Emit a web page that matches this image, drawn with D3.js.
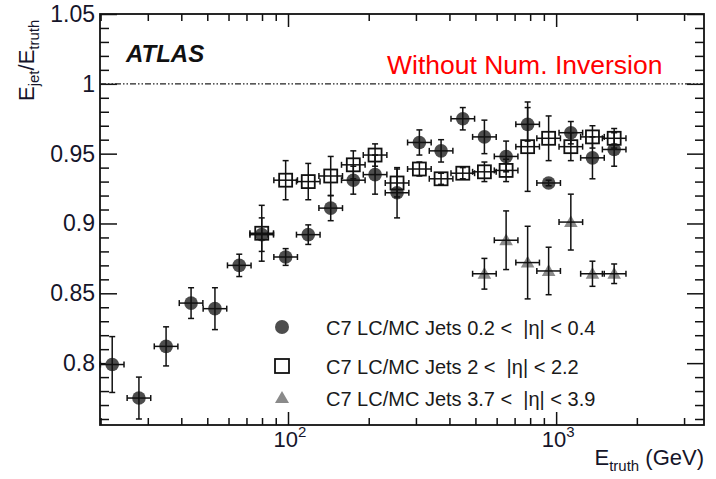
<!DOCTYPE html>
<html><head><meta charset="utf-8">
<script src="https://cdn.jsdelivr.net/npm/d3@7"></script>
<style>
body{margin:0;background:#fff}
svg{display:block}
text{font-family:"Liberation Sans",Arial,Helvetica,sans-serif}
</style>
</head><body>
<svg id="c" width="716" height="479"></svg>
<script>
// ---- data ----
const circE   = [22.1, 27.8, 35.1, 43.5, 53.4, 65.8, 79.8, 98.0, 119.0, 144.3, 175.2, 211.2, 255.1, 309.0, 372.3, 448.6, 540.1, 650.8, 782.9, 937.6, 1134.5, 1366, 1646];
const circR   = [0.799, 0.775, 0.812, 0.843, 0.839, 0.870, 0.892, 0.876, 0.892, 0.911, 0.931, 0.935, 0.922, 0.958, 0.952, 0.975, 0.962, 0.948, 0.971, 0.929, 0.965, 0.947, 0.953];
const circErr = [0.020, 0.015, 0.014, 0.011, 0.015, 0.008, 0.012, 0.006, 0.007, 0.009, 0.010, 0.014, 0.018, 0.009, 0.008, 0.008, 0.012, 0.011, 0.012, 0.002, 0.008, 0.015, 0.012];

const sqE   = [79.8, 98.0, 119.0, 144.3, 175.2, 211.2, 255.1, 309.0, 372.3, 448.6, 540.1, 650.8, 782.9, 937.6, 1134.5, 1366, 1646];
const sqR   = [0.893, 0.931, 0.930, 0.934, 0.942, 0.949, 0.929, 0.939, 0.932, 0.936, 0.937, 0.938, 0.955, 0.961, 0.955, 0.962, 0.961];
const sqErr = [0.020, 0.014, 0.013, 0.014, 0.010, 0.008, 0.010, 0.005, 0.004, 0.004, 0.007, 0.008, 0.032, 0.016, 0.010, 0.008, 0.007];

const triE   = [540.1, 650.8, 782.9, 937.6, 1134.5, 1366, 1646];
const triR   = [0.864, 0.888, 0.872, 0.866, 0.901, 0.864, 0.864];
const triErr = [0.011, 0.021, 0.026, 0.017, 0.020, 0.009, 0.007];

const xErrDecades = 0.044;

const yMajorTicks = [0.8, 0.85, 0.9, 0.95, 1, 1.05];
const yMajorLabels = ["0.8", "0.85", "0.9", "0.95", "1", "1.05"];
const xMajorTicks = [100, 1000];
const xMajorExp = ["2", "3"];

const legendLabels = ["C7 LC/MC Jets 0.2 <\u00a0 |η| < 0.4", "C7 LC/MC Jets 2 <\u00a0 |η| < 2.2", "C7 LC/MC Jets 3.7 <\u00a0 |η| < 3.9"];

// ---- layout ----
const L = 100, R = 704, T = 14, B = 425;
const svg = d3.select("#c");
const x = d3.scaleLog().domain([19.9, 3560]).range([L, R]);
const y = d3.scaleLinear().domain([0.7557, 1.05]).range([B, T]);

const yMinor = d3.range(76, 106).map(v => v / 100).filter(v => !yMajorTicks.some(m => Math.abs(m - v) < 1e-6));
const xMinor = [20,30,40,50,60,70,80,90,200,300,400,500,600,700,800,900,2000,3000];

function styleAxis(g){ g.select(".domain").remove(); g.selectAll("line").attr("stroke","#111").attr("stroke-width",1.5); }

// y axes (ticks inside)
svg.append("g").attr("transform",`translate(${L},0)`).call(d3.axisLeft(y).tickValues(yMinor).tickSize(-9).tickFormat("")).call(styleAxis);
svg.append("g").attr("transform",`translate(${L},0)`)
  .call(d3.axisLeft(y).tickValues(yMajorTicks).tickSize(-17).tickPadding(5).tickFormat((d,i)=>yMajorLabels[i]))
  .call(styleAxis)
  .call(g=>g.selectAll("text").attr("font-size",23).attr("fill","#15152a").attr("font-family",'"Liberation Sans",Arial,sans-serif'));
svg.append("g").attr("transform",`translate(${R},0)`).call(d3.axisRight(y).tickValues(yMinor).tickSize(-9).tickFormat("")).call(styleAxis);
svg.append("g").attr("transform",`translate(${R},0)`).call(d3.axisRight(y).tickValues(yMajorTicks).tickSize(-17).tickFormat("")).call(styleAxis);

// x axes
svg.append("g").attr("transform",`translate(0,${B})`).call(d3.axisBottom(x).tickValues(xMinor).tickSize(-7).tickFormat("")).call(styleAxis);
svg.append("g").attr("transform",`translate(0,${B})`).call(d3.axisBottom(x).tickValues(xMajorTicks).tickSize(-13).tickFormat("")).call(styleAxis);
svg.append("g").attr("transform",`translate(0,${T})`).call(d3.axisTop(x).tickValues(xMinor).tickSize(-7).tickFormat("")).call(styleAxis);
svg.append("g").attr("transform",`translate(0,${T})`).call(d3.axisTop(x).tickValues(xMajorTicks).tickSize(-13).tickFormat("")).call(styleAxis);

// x tick labels with superscripts
xMajorTicks.forEach((v,i)=>{
  const t = svg.append("text").attr("x", x(v)+2).attr("y", 447).attr("text-anchor","middle").attr("font-size",22).attr("fill","#15152a");
  t.append("tspan").text("10");
  t.append("tspan").attr("dy",-10).attr("font-size",15).text(xMajorExp[i]);
});

// frame
svg.append("rect").attr("x",L).attr("y",T).attr("width",R-L).attr("height",B-T).attr("fill","none").attr("stroke","#111").attr("stroke-width",1.8);

// reference line at 1
svg.append("line").attr("x1",L).attr("x2",R).attr("y1",y(1)).attr("y2",y(1))
  .attr("stroke","#222").attr("stroke-width",1.1).attr("stroke-dasharray","6,2,1.5,2,1.5,2");

// axis titles
const yl = svg.append("text").attr("transform","translate(34,101) rotate(-90)").attr("font-size",22).attr("fill","#15152a");
yl.append("tspan").text("E");
yl.append("tspan").attr("font-size",15).attr("dy",5).text("jet");
yl.append("tspan").attr("dy",-5).text("/E");
yl.append("tspan").attr("font-size",15).attr("dy",5).text("truth");

const xl = svg.append("text").attr("x",704).attr("y",465).attr("text-anchor","end").attr("font-size",22).attr("fill","#15152a");
xl.append("tspan").text("E");
xl.append("tspan").attr("font-size",15).attr("dy",6).text("truth");
xl.append("tspan").attr("dy",-6).text(" (GeV)");

// ATLAS label and annotation
svg.append("text").attr("x",126).attr("y",62).attr("font-size",24).attr("font-weight","bold").attr("font-style","italic").attr("fill","#111").text("ATLAS");
svg.append("text").attr("x",387).attr("y",74).attr("font-size",26.5).attr("fill","#ff0000").text("Without Num. Inversion");

// ---- data series ----
function drawErrors(g, E, V, Er){
  const cap = 3;
  E.forEach((e,i)=>{
    const cx = x(e), cy = y(V[i]);
    const x0 = x(e/Math.pow(10,xErrDecades)), x1 = x(e*Math.pow(10,xErrDecades));
    const y0 = y(V[i]-Er[i]), y1 = y(V[i]+Er[i]);
    const gg = g.append("g").attr("stroke","#111").attr("stroke-width",1.5);
    gg.append("line").attr("x1",x0).attr("x2",x1).attr("y1",cy).attr("y2",cy);
    gg.append("line").attr("x1",x0).attr("x2",x0).attr("y1",cy-cap).attr("y2",cy+cap);
    gg.append("line").attr("x1",x1).attr("x2",x1).attr("y1",cy-cap).attr("y2",cy+cap);
    gg.append("line").attr("x1",cx).attr("x2",cx).attr("y1",y0).attr("y2",y1);
    gg.append("line").attr("x1",cx-cap).attr("x2",cx+cap).attr("y1",y0).attr("y2",y0);
    gg.append("line").attr("x1",cx-cap).attr("x2",cx+cap).attr("y1",y1).attr("y2",y1);
  });
}

const gC = svg.append("g");
gC.selectAll("circle").data(circE).join("circle")
  .attr("cx",d=>x(d)).attr("cy",(d,i)=>y(circR[i])).attr("r",6.8).attr("fill","#4d4d4d");
drawErrors(gC, circE, circR, circErr);

const gT = svg.append("g");
const triPath = d3.symbol().type(d3.symbolTriangle).size(80)();
gT.selectAll("path").data(triE).join("path")
  .attr("d",triPath).attr("transform",(d,i)=>`translate(${x(d)},${y(triR[i])+1})`).attr("fill","#8a8a8a");
drawErrors(gT, triE, triR, triErr);

const gS = svg.append("g");
drawErrors(gS, sqE, sqR, sqErr);
gS.selectAll("rect").data(sqE).join("rect")
  .attr("x",d=>x(d)-6.5).attr("y",(d,i)=>y(sqR[i])-6.5).attr("width",13).attr("height",13)
  .attr("fill","none").attr("stroke","#111").attr("stroke-width",1.8);

// ---- legend ----
const lg = svg.append("g");
const ly = [327, 366, 398];
lg.append("circle").attr("cx",282).attr("cy",ly[0]).attr("r",7).attr("fill","#4d4d4d");
lg.append("rect").attr("x",275).attr("y",ly[1]-7).attr("width",14).attr("height",14).attr("fill","none").attr("stroke","#111").attr("stroke-width",1.8);
lg.append("path").attr("d",d3.symbol().type(d3.symbolTriangle).size(85)()).attr("transform",`translate(282,${ly[2]+1})`).attr("fill","#8a8a8a");
legendLabels.forEach((s,i)=>{
  lg.append("text").attr("x",326).attr("y",ly[i]+8).attr("font-size",20).attr("fill","#1a1a1a").text(s);
});
</script>
</body></html>
